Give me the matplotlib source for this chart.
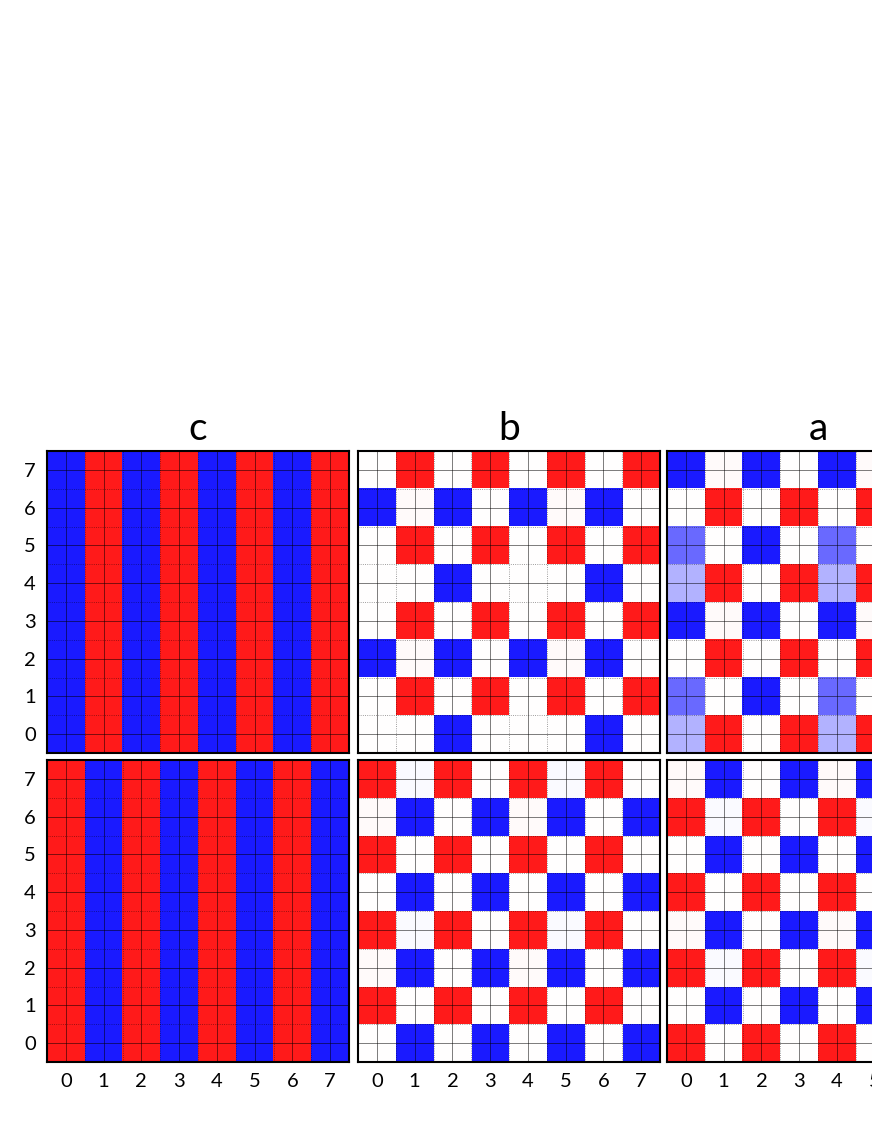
import numpy as np
import matplotlib.pyplot as plt

plt.rcParams['font.family'] = ['Lato', 'DejaVu Sans']

f = 0.02  # barely tinted cells

titles = ["c", "b", "a"]
ticks = list(range(8))

# rows listed from y=0 (bottom) to y=7 (top)
c_top = [[-1, 1, -1, 1, -1, 1, -1, 1]] * 8
c_bottom = [[1, -1, 1, -1, 1, -1, 1, -1]] * 8

b_top = [
    [0, 0, -1, 0, 0, 0, -1, 0],
    [0, 1, 0, 1, 0, 1, 0, 1],
    [-1, f, -1, 0, -1, f, -1, 0],
    [0, 1, 0, 1, 0, 1, 0, 1],
    [0, 0, -1, 0, 0, 0, -1, 0],
    [0, 1, 0, 1, 0, 1, 0, 1],
    [-1, f, -1, 0, -1, f, -1, 0],
    [0, 1, 0, 1, 0, 1, 0, 1],
]
b_bottom = [
    [0, -1, 0, -1, 0, -1, 0, -1],
    [1, 0, 1, 0, 1, 0, 1, 0],
    [f, -1, 0, -1, f, -1, 0, -1],
    [1, -f, 1, 0, 1, -f, 1, 0],
    [0, -1, 0, -1, 0, -1, 0, -1],
    [1, 0, 1, 0, 1, 0, 1, 0],
    [f, -1, 0, -1, f, -1, 0, -1],
    [1, -f, 1, 0, 1, -f, 1, 0],
]
a_top = [
    [-0.33, 1, 0, 1, -0.33, 1, 0, 1],
    [-0.65, 0, -1, 0, -0.65, 0, -1, 0],
    [0, 1, 0, 1, 0, 1, 0, 1],
    [-1, f, -1, 0, -1, f, -1, 0],
    [-0.33, 1, 0, 1, -0.33, 1, 0, 1],
    [-0.65, 0, -1, 0, -0.65, 0, -1, 0],
    [0, 1, 0, 1, 0, 1, 0, 1],
    [-1, f, -1, 0, -1, f, -1, 0],
]
a_bottom = [
    [1, 0, 1, 0, 1, 0, 1, 0],
    [0, -1, 0, -1, 0, -1, 0, -1],
    [1, -f, 1, 0, 1, -f, 1, 0],
    [f, -1, 0, -1, f, -1, 0, -1],
    [1, 0, 1, 0, 1, 0, 1, 0],
    [0, -1, 0, -1, 0, -1, 0, -1],
    [1, -f, 1, 0, 1, -f, 1, 0],
    [f, -1, 0, -1, f, -1, 0, -1],
]

panels = [[c_top, b_top, a_top], [c_bottom, b_bottom, a_bottom]]

W, H = 872, 1128
fig = plt.figure(figsize=(W / 100, H / 100), dpi=100)

lefts = [47, 358, 667]
tops = [451, 760]
size = 302

for r in range(2):
    for c in range(3):
        ax = fig.add_axes([lefts[c] / W, 1 - (tops[r] + size) / H, size / W, size / H])
        ax.imshow(np.array(panels[r][c]), cmap='bwr', vmin=-1, vmax=1, alpha=0.9,
                  origin='lower', interpolation='nearest', aspect='auto')
        ax.set_xlim(-0.5, 7.5)
        ax.set_ylim(-0.5, 7.5)
        ax.set_xticks(ticks)
        ax.set_yticks(ticks)
        ax.set_xticks(np.arange(-0.5, 8, 1), minor=True)
        ax.set_yticks(np.arange(-0.5, 8, 1), minor=True)
        ax.grid(True, which='major', color='black', linewidth=0.6, alpha=0.6)
        ax.grid(True, which='minor', color='black', linewidth=0.6, alpha=0.5, linestyle=':')
        ax.tick_params(which='both', length=0, labelsize=14.5, pad=8)
        if c != 0:
            ax.set_yticklabels([])
        if r != 1:
            ax.set_xticklabels([])
        for s in ax.spines.values():
            s.set_linewidth(1.5)
        if r == 0:
            ax.set_title(titles[c], fontsize=28, pad=8)

fig.savefig("out.png", dpi=100)
